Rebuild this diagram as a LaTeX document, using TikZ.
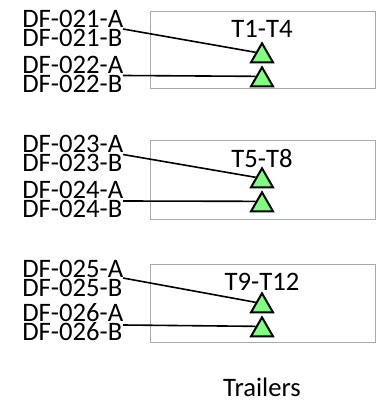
\documentclass[tikz,border=0pt]{standalone}
\usepackage{fontspec}
\setmainfont{Carlito}
\usetikzlibrary{shapes.geometric}
\tikzset{
  lbl/.style={anchor=west,inner sep=0pt,font=\fontsize{20}{20}\selectfont},
  ttl/.style={inner sep=0pt,font=\fontsize{20}{20}\selectfont},
  trailerbox/.style={draw={rgb, 255:red, 170; green, 170; blue, 170},line width=0.75pt},
  tri/.style={regular polygon,regular polygon sides=3,draw,line width=1.5pt,fill={rgb, 255:red, 128; green, 255; blue, 128},minimum size=19pt,inner sep=0pt},
  wire/.style={line width=1.2pt}
}
\begin{document}
\begin{tikzpicture}[x=0.75pt,y=0.75pt,yscale=-1,xscale=1]
\useasboundingbox (0,0) rectangle (377,402);

%Box 1
\draw [trailerbox] (150,12) rectangle (375,89) ;
\node [ttl] (t1) at (262,29) {T1-T4};
\node [lbl] (a21) at (22,19) {DF-021-A};
\node [lbl] (b21) at (22,38) {DF-021-B};
\node [lbl] (a22) at (22,65) {DF-022-A};
\node [lbl] (b22) at (22,84) {DF-022-B};
\node [tri] (p21) at (262,56) {};
\node [tri] (p22) at (262,80) {};
\coordinate (e21) at (123,29);
\coordinate (e22) at (123,75.5);
\draw [wire] (e21) -- (p21.side 1);
\draw [wire] (e22) -- (p22.side 1);

%Box 2
\draw [trailerbox] (150,141) rectangle (375,219) ;
\node [ttl] (t2) at (262,158) {T5-T8};
\node [lbl] (a23) at (22,144) {DF-023-A};
\node [lbl] (b23) at (22,163) {DF-023-B};
\node [lbl] (a24) at (22,190) {DF-024-A};
\node [lbl] (b24) at (22,209) {DF-024-B};
\node [tri] (p23) at (262,181) {};
\node [tri] (p24) at (262,205) {};
\coordinate (e23) at (123,154.5);
\coordinate (e24) at (123,201);
\draw [wire] (e23) -- (p23.side 1);
\draw [wire] (e24) -- (p24.side 1);

%Box 3
\draw [trailerbox] (150,264) rectangle (375,342) ;
\node [ttl] (t3) at (262,282) {T9-T12};
\node [lbl] (a25) at (22,269) {DF-025-A};
\node [lbl] (b25) at (22,287.5) {DF-025-B};
\node [lbl] (a26) at (22,313) {DF-026-A};
\node [lbl] (b26) at (22,332) {DF-026-B};
\node [tri] (p25) at (262,306) {};
\node [tri] (p26) at (262,330) {};
\coordinate (e25) at (123,278);
\coordinate (e26) at (123,325);
\draw [wire] (e25) -- (p25.side 1);
\draw [wire] (e26) -- (p26.side 1);

% Text Node
\node [ttl] (cap) at (262,387) {Trailers};
\end{tikzpicture}
\end{document}
